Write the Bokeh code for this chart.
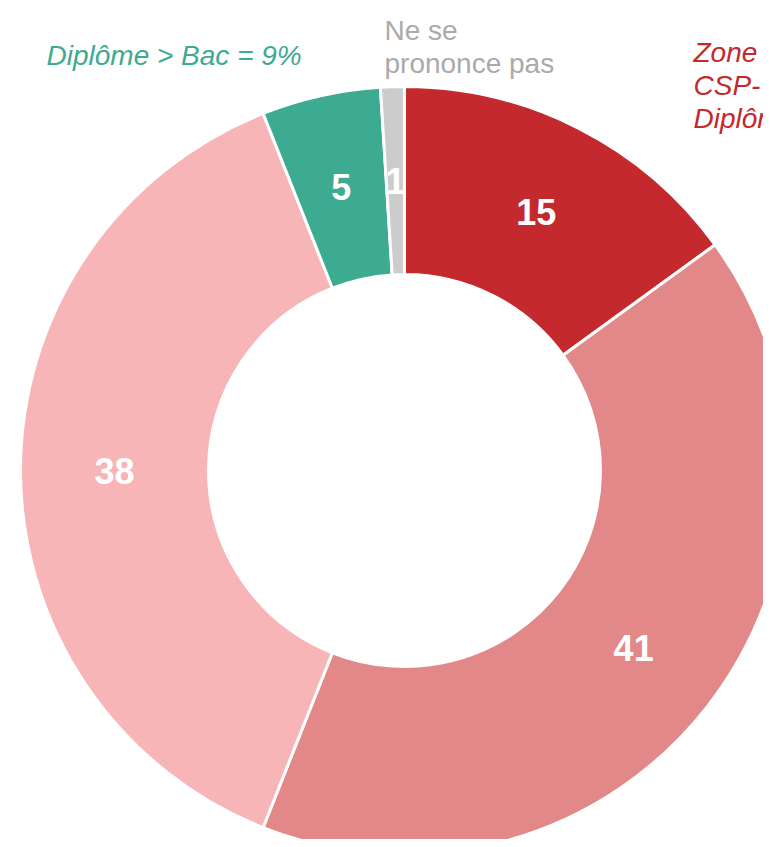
import math
from bokeh.plotting import figure
from bokeh.models import Range1d, Label, ColumnDataSource
from bokeh.embed import file_html
from bokeh.resources import INLINE

categories = ["Zone CSP- Diplôme", "Intermédiaire", "Autres", "Diplôme > Bac", "Ne se prononce pas"]
values = [15, 41, 38, 5, 1]
colors = ["#C4292E", "#E38888", "#F7B5B7", "#3DAA92", "#CCCCCC"]
value_labels = ["15", "41", "38", "5", "1"]

W, H = 763, 839
p = figure(width=W, height=H, output_backend="svg", toolbar_location=None,
           x_range=Range1d(0, 763), y_range=Range1d(8, 847), min_border=0)
p.axis.visible = False
p.grid.visible = False
p.outline_line_color = None
p.background_fill_color = "white"

# coordinates: x = screen x, y = 847 - screen y
cx, cy = 404, 847 - 470
r_out, r_in = 384, 196
total = sum(values)
starts, ends, lx, ly = [], [], [], []
cum = 0
for v in values:
    a0 = math.pi / 2 - 2 * math.pi * cum / total
    cum += v
    a1 = math.pi / 2 - 2 * math.pi * cum / total
    starts.append(a0)
    ends.append(a1)
    mid = (a0 + a1) / 2
    rm = (r_out + r_in) / 2
    lx.append(cx + rm * math.cos(mid))
    ly.append(cy + rm * math.sin(mid))

src = ColumnDataSource(dict(start=starts, end=ends, color=colors, cat=categories,
                            lx=lx, ly=ly, lab=value_labels))
p.annular_wedge(x=cx, y=cy, inner_radius=r_in, outer_radius=r_out,
                start_angle="start", end_angle="end", direction="clock",
                fill_color="color", line_color="white", line_width=3, source=src)

p.text(x="lx", y="ly", text="lab", source=src, text_color="white",
       text_font_size="36px", text_font_style="bold", text_align="center",
       text_baseline="middle", text_font={"value": "Liberation Sans"})

def lab(x, y, t, color, style="normal"):
    p.add_layout(Label(x=x, y=847 - y, text=t, text_color=color, text_font_size="28px",
                       text_font="Liberation Sans", text_font_style=style,
                       text_baseline="alphabetic"))

lab(46, 55, "Diplôme > Bac = 9%", "#3DAA92", "italic")
lab(384, 30, "Ne se", "#AAAAAA")
lab(384, 63, "prononce pas", "#AAAAAA")
lab(693, 52, "Zone", "#C4292E", "italic")
lab(693, 85, "CSP-", "#C4292E", "italic")
lab(693, 118, "Diplôme", "#C4292E", "italic")

open("out.html", "w").write(file_html(p, INLINE))
